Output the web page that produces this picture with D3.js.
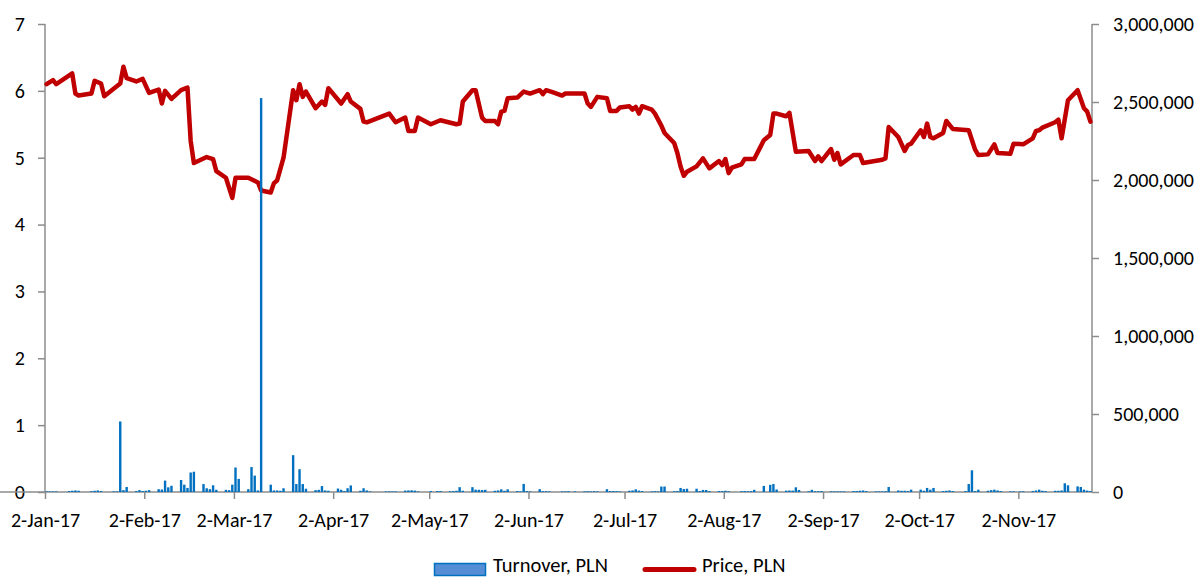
<!DOCTYPE html>
<html>
<head>
<meta charset="utf-8">
<script src="https://cdn.jsdelivr.net/npm/d3@7/dist/d3.min.js"></script>
<style>
  body { margin: 0; background: #fff; }
  svg { display: block; font-family: Carlito, Calibri, Lato, sans-serif; }
  .tick text { fill: #000; }
</style>
</head>
<body>
<div id="chart"></div>
<script>
// price, PLN (left axis) - at the turning points
var priceDates = [
  "2017-01-02","2017-01-04","2017-01-05","2017-01-10","2017-01-11","2017-01-12","2017-01-16","2017-01-17","2017-01-19","2017-01-20",
  "2017-01-25","2017-01-26","2017-01-27","2017-01-30","2017-02-01","2017-02-03","2017-02-06","2017-02-07","2017-02-08","2017-02-10",
  "2017-02-13","2017-02-15","2017-02-16","2017-02-17","2017-02-21","2017-02-23","2017-02-24","2017-02-27","2017-03-01","2017-03-02",
  "2017-03-06","2017-03-09","2017-03-10","2017-03-13","2017-03-14","2017-03-15","2017-03-17","2017-03-20","2017-03-21","2017-03-22",
  "2017-03-23","2017-03-24","2017-03-27","2017-03-29","2017-03-30","2017-03-31","2017-04-04","2017-04-06","2017-04-07","2017-04-10",
  "2017-04-11","2017-04-12","2017-04-19","2017-04-21","2017-04-24","2017-04-25","2017-04-27","2017-04-28","2017-05-02","2017-05-05",
  "2017-05-10","2017-05-11","2017-05-12","2017-05-15","2017-05-16","2017-05-18","2017-05-19","2017-05-22","2017-05-23","2017-05-24",
  "2017-05-25","2017-05-26","2017-05-29","2017-05-31","2017-06-02","2017-06-05","2017-06-06","2017-06-07","2017-06-09","2017-06-12",
  "2017-06-13","2017-06-19","2017-06-20","2017-06-21","2017-06-23","2017-06-26","2017-06-27","2017-06-29","2017-06-30","2017-07-03",
  "2017-07-04","2017-07-05","2017-07-06","2017-07-07","2017-07-10","2017-07-11","2017-07-13","2017-07-14","2017-07-17","2017-07-18",
  "2017-07-19","2017-07-20","2017-07-21","2017-07-24","2017-07-26","2017-07-28","2017-07-31","2017-08-01","2017-08-02","2017-08-03",
  "2017-08-04","2017-08-07","2017-08-08","2017-08-11","2017-08-14","2017-08-16","2017-08-17","2017-08-18","2017-08-21","2017-08-22",
  "2017-08-24","2017-08-28","2017-08-30","2017-08-31","2017-09-01","2017-09-04","2017-09-05","2017-09-06","2017-09-07","2017-09-11",
  "2017-09-13","2017-09-14","2017-09-20","2017-09-21","2017-09-22","2017-09-25","2017-09-27","2017-09-28","2017-09-29","2017-10-02",
  "2017-10-03","2017-10-04","2017-10-05","2017-10-06","2017-10-09","2017-10-10","2017-10-12","2017-10-17","2017-10-19","2017-10-20",
  "2017-10-23","2017-10-25","2017-10-26","2017-10-30","2017-10-31","2017-11-03","2017-11-06","2017-11-07","2017-11-08","2017-11-09",
  "2017-11-13","2017-11-14","2017-11-15","2017-11-17","2017-11-20","2017-11-22","2017-11-23","2017-11-24"
];
var priceValues = [
  6.10,6.16,6.10,6.26,5.96,5.93,5.96,6.15,6.11,5.92,
  6.11,6.36,6.19,6.14,6.18,5.97,6.02,5.81,6.00,5.88,
  6.01,6.05,5.25,4.92,5.01,4.98,4.80,4.70,4.40,4.70,
  4.70,4.63,4.51,4.48,4.62,4.66,5.00,6.01,5.86,6.10,
  5.91,5.99,5.74,5.84,5.79,6.04,5.81,5.95,5.84,5.73,
  5.54,5.53,5.66,5.53,5.60,5.40,5.40,5.60,5.50,5.56,
  5.50,5.51,5.84,6.01,6.01,5.60,5.55,5.55,5.50,5.69,
  5.70,5.89,5.90,5.99,5.96,6.01,5.95,6.01,5.98,5.93,
  5.96,5.96,5.81,5.76,5.91,5.89,5.70,5.70,5.75,5.77,
  5.72,5.76,5.66,5.77,5.72,5.66,5.48,5.37,5.22,5.07,
  4.87,4.73,4.79,4.87,4.99,4.84,4.95,4.89,4.98,4.77,
  4.85,4.90,4.98,4.98,5.26,5.34,5.66,5.66,5.62,5.67,
  5.09,5.10,4.95,5.02,4.95,5.13,4.97,5.07,4.90,5.04,
  5.04,4.92,4.97,4.99,5.46,5.31,5.10,5.19,5.21,5.41,
  5.31,5.51,5.31,5.29,5.37,5.55,5.43,5.41,5.12,5.04,
  5.05,5.20,5.07,5.06,5.21,5.20,5.29,5.40,5.41,5.45,
  5.53,5.57,5.29,5.86,6.01,5.74,5.69,5.54
];

// turnover, PLN (right axis) - days with a visible bar
var turnoverDates = [
  "2017-01-02","2017-01-03","2017-01-04","2017-01-05","2017-01-09","2017-01-10","2017-01-11","2017-01-12","2017-01-16","2017-01-17",
  "2017-01-18","2017-01-19","2017-01-23","2017-01-24","2017-01-25","2017-01-26","2017-01-27","2017-01-30","2017-01-31","2017-02-01",
  "2017-02-02","2017-02-03","2017-02-06","2017-02-07","2017-02-08","2017-02-09","2017-02-10","2017-02-13","2017-02-14","2017-02-15",
  "2017-02-16","2017-02-17","2017-02-20","2017-02-21","2017-02-22","2017-02-23","2017-02-24","2017-02-27","2017-02-28","2017-03-01",
  "2017-03-02","2017-03-03","2017-03-06","2017-03-07","2017-03-08","2017-03-09","2017-03-10","2017-03-13","2017-03-14","2017-03-15",
  "2017-03-16","2017-03-17","2017-03-20","2017-03-21","2017-03-22","2017-03-23","2017-03-24","2017-03-27","2017-03-28","2017-03-29",
  "2017-03-30","2017-03-31","2017-04-03","2017-04-04","2017-04-05","2017-04-06","2017-04-07","2017-04-10","2017-04-11","2017-04-12",
  "2017-04-13","2017-04-18","2017-04-19","2017-04-20","2017-04-21","2017-04-24","2017-04-25","2017-04-26","2017-04-27","2017-04-28",
  "2017-05-02","2017-05-04","2017-05-05","2017-05-08","2017-05-09","2017-05-10","2017-05-11","2017-05-12","2017-05-15","2017-05-16",
  "2017-05-17","2017-05-18","2017-05-19","2017-05-22","2017-05-23","2017-05-24","2017-05-25","2017-05-26","2017-05-29","2017-05-30",
  "2017-05-31","2017-06-01","2017-06-02","2017-06-05","2017-06-06","2017-06-07","2017-06-08","2017-06-12","2017-06-13","2017-06-14",
  "2017-06-16","2017-06-19","2017-06-20","2017-06-21","2017-06-22","2017-06-23","2017-06-26","2017-06-27","2017-06-28","2017-06-29",
  "2017-06-30","2017-07-03","2017-07-04","2017-07-05","2017-07-06","2017-07-07","2017-07-10","2017-07-11","2017-07-12","2017-07-13",
  "2017-07-14","2017-07-17","2017-07-18","2017-07-19","2017-07-20","2017-07-21","2017-07-24","2017-07-25","2017-07-26","2017-07-27",
  "2017-07-28","2017-07-31","2017-08-01","2017-08-02","2017-08-03","2017-08-07","2017-08-08","2017-08-09","2017-08-10","2017-08-11",
  "2017-08-14","2017-08-16","2017-08-17","2017-08-18","2017-08-21","2017-08-22","2017-08-23","2017-08-24","2017-08-25","2017-08-28",
  "2017-08-29","2017-08-30","2017-08-31","2017-09-01","2017-09-04","2017-09-05","2017-09-06","2017-09-07","2017-09-08","2017-09-11",
  "2017-09-12","2017-09-13","2017-09-14","2017-09-15","2017-09-18","2017-09-19","2017-09-20","2017-09-21","2017-09-22","2017-09-25",
  "2017-09-26","2017-09-27","2017-09-28","2017-09-29","2017-10-02","2017-10-03","2017-10-04","2017-10-05","2017-10-06","2017-10-09",
  "2017-10-10","2017-10-11","2017-10-12","2017-10-16","2017-10-17","2017-10-18","2017-10-19","2017-10-20","2017-10-23","2017-10-24",
  "2017-10-25","2017-10-26","2017-10-27","2017-10-30","2017-10-31","2017-11-02","2017-11-03","2017-11-06","2017-11-07","2017-11-08",
  "2017-11-09","2017-11-10","2017-11-13","2017-11-14","2017-11-15","2017-11-16","2017-11-17","2017-11-20","2017-11-21","2017-11-22",
  "2017-11-23","2017-11-24"
];
var turnoverValues = [
  4000,4000,4000,4000,6000,8000,10000,8000,5000,8000,
  10000,6000,4000,4000,452000,12000,32000,6000,12000,6000,
  8000,12000,18000,16000,73000,30000,40000,77000,47000,26000,
  125000,130000,51000,24000,18000,43000,14000,14000,12000,47000,
  157000,84000,18000,160000,105000,10000,2525000,47000,10000,10000,
  8000,24000,236000,51000,146000,51000,21000,12000,14000,38000,
  10000,8000,22000,14000,6000,24000,42000,8000,24000,10000,
  4000,4000,4000,4000,4000,9000,10000,11000,9000,4000,
  6000,6000,6000,5000,6000,8000,31000,8000,31000,15000,
  14000,13000,14000,8000,10000,17000,8000,17000,6000,4000,
  52000,6000,4000,18000,5000,5000,4000,4000,4000,5000,
  4000,4000,5000,4000,5000,4000,18000,6000,6000,5000,
  4000,8000,10000,17000,9000,6000,4000,5000,4000,35000,
  35000,5000,6000,26000,19000,21000,21000,6000,13000,13000,
  6000,6000,6000,8000,5000,5000,6000,5000,6000,14000,
  39000,46000,51000,16000,9000,10000,9000,30000,13000,5000,
  14000,5000,5000,6000,4000,4000,4000,4000,4000,6000,
  6000,8000,10000,6000,4000,4000,4000,5000,32000,10000,
  8000,8000,6000,15000,15000,8000,26000,15000,26000,6000,
  8000,10000,6000,6000,51000,139000,6000,15000,8000,12000,
  15000,10000,6000,4000,4000,4000,4000,6000,10000,15000,
  8000,6000,8000,8000,10000,56000,43000,36000,32000,15000,
  9000,6000
];

// axis ticks
var priceTicks = [0, 1, 2, 3, 4, 5, 6, 7];
var turnoverTicks = [0, 500000, 1000000, 1500000, 2000000, 2500000, 3000000];
var monthTicks = ["2017-01-02","2017-02-02","2017-03-02","2017-04-02","2017-05-02","2017-06-02",
  "2017-07-02","2017-08-02","2017-09-02","2017-10-02","2017-11-02"];

var svgWidth = 1200;
var svgHeight = 578;

var plot = { left: 45, right: 1092, top: 24, bottom: 492 };

var parseDate = d3.timeParse("%Y-%m-%d");
var fmtDate = d3.timeFormat("%-d-%b-%y");

var svg = d3.select("#chart")
  .append("svg")
  .attr("width", svgWidth)
  .attr("height", svgHeight);

var xTime = d3.scaleTime()
  .domain([parseDate("2017-01-02"), parseDate("2017-11-25")])
  .range([plot.left, plot.right]);

var dayW = xTime(parseDate("2017-01-03")) - xTime(parseDate("2017-01-02"));

var yPrice = d3.scaleLinear().domain([0, 7]).range([plot.bottom, plot.top]);
var yTurn = d3.scaleLinear().domain([0, 3000000]).range([plot.bottom, plot.top]);

var priceData = priceDates.map((d, i) => ({ date: parseDate(d), value: priceValues[i] }));
var turnData = turnoverDates.map((d, i) => ({ date: parseDate(d), value: turnoverValues[i] }));

// axes
var axisColor = "#8c8c8c";

var leftAxis = svg.append("g")
  .attr("transform", `translate(${plot.left},0)`)
  .call(d3.axisLeft(yPrice).tickValues(priceTicks).tickSize(7).tickPadding(13).tickFormat(d3.format("d")));

var rightAxis = svg.append("g")
  .attr("transform", `translate(${plot.right},0)`)
  .call(d3.axisRight(yTurn).tickValues(turnoverTicks).tickSize(7).tickPadding(14).tickFormat(d3.format(",")));

var bottomAxis = svg.append("g")
  .attr("transform", `translate(0,${plot.bottom})`)
  .call(d3.axisBottom(xTime).tickValues(monthTicks.map(parseDate)).tickSize(7).tickPadding(14).tickFormat(fmtDate));

[leftAxis, rightAxis, bottomAxis].forEach(function(g) {
  g.selectAll(".domain").attr("stroke", axisColor).attr("stroke-width", 1.5);
  g.selectAll(".tick line").attr("stroke", axisColor).attr("stroke-width", 1.5);
  g.selectAll(".tick text").attr("font-size", "20px").attr("fill", "#000");
  g.attr("font-family", null);
});
// axis lines without the end ticks d3 draws
leftAxis.select(".domain").attr("d", `M0,${plot.top}V${plot.bottom}`);
rightAxis.select(".domain").attr("d", `M0,${plot.top}V${plot.bottom}`);
bottomAxis.select(".domain").attr("d", `M0,0H${plot.right}`);

// price line
var line = d3.line()
  .x(d => xTime(d.date) + dayW / 2)
  .y(d => yPrice(d.value));

svg.append("path")
  .datum(priceData)
  .attr("d", line)
  .attr("fill", "none")
  .attr("stroke", "#C00000")
  .attr("stroke-width", 4.5)
  .attr("stroke-linejoin", "round")
  .attr("stroke-linecap", "round");

// turnover bars (secondary axis, drawn on top)
var barW = 2.4;
svg.append("g")
  .selectAll("rect")
  .data(turnData)
  .enter()
  .append("rect")
  .attr("x", d => xTime(d.date) + dayW / 2 - barW / 2)
  .attr("y", d => yTurn(d.value))
  .attr("width", barW)
  .attr("height", d => plot.bottom - yTurn(d.value))
  .attr("fill", "#0070C0");

// legend
var legend = svg.append("g").attr("font-size", "20.5px");

legend.append("rect")
  .attr("x", 434.5).attr("y", 563.5)
  .attr("width", 51).attr("height", 12)
  .attr("fill", "#558ED5")
  .attr("stroke", "#0070C0")
  .attr("stroke-width", 1.5);

legend.append("text")
  .attr("x", 493).attr("y", 572)
  .text("Turnover, PLN");

legend.append("line")
  .attr("x1", 645).attr("x2", 694)
  .attr("y1", 569.5).attr("y2", 569.5)
  .attr("stroke", "#C00000")
  .attr("stroke-width", 5)
  .attr("stroke-linecap", "round");

legend.append("text")
  .attr("x", 702).attr("y", 572)
  .text("Price, PLN");
</script>
</body>
</html>
